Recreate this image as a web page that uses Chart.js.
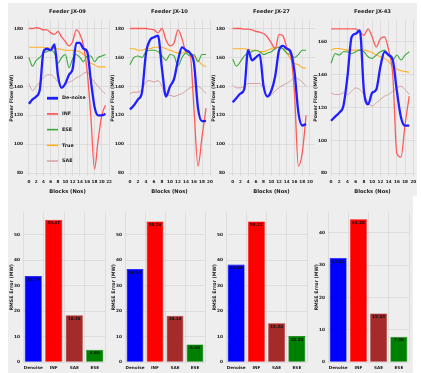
<!DOCTYPE html>
<html>
<head>
<meta charset="utf-8">
<script src="https://cdn.jsdelivr.net/npm/chart.js@4.4.0/dist/chart.umd.min.js"></script>
<style>
  body { margin: 0; background: #fff; }
  #fig { position: relative; width: 421px; height: 373px; overflow: hidden; }
  .bg { position: absolute; background: #eeeeee; }
  canvas { position: absolute; }
</style>
</head>
<body>
<div id="fig">
  <div class="bg" style="left:8px;top:3px;width:409px;height:193px"></div>
  <div class="bg" style="left:8px;top:196px;width:405px;height:177px"></div>
  <canvas id="l1" width="112" height="196" style="left:3px;top:0px"></canvas>
  <canvas id="l2" width="113" height="196" style="left:104px;top:0px"></canvas>
  <canvas id="l3" width="115" height="196" style="left:205px;top:0px"></canvas>
  <canvas id="l4" width="113" height="196" style="left:307px;top:0px"></canvas>
  <canvas id="b1" width="104" height="166" style="left:3px;top:207px"></canvas>
  <canvas id="b2" width="102" height="166" style="left:105px;top:207px"></canvas>
  <canvas id="b3" width="103" height="166" style="left:206px;top:207px"></canvas>
  <canvas id="b4" width="103" height="166" style="left:308px;top:207px"></canvas>
</div>
<script>
// categories / ticks
const blocks22 = [0,1,2,3,4,5,6,7,8,9,10,11,12,13,14,15,16,17,18,19,20,21]
const blocks20 = [0,1,2,3,4,5,6,7,8,9,10,11,12,13,14,15,16,17,18,19]
const xTicks22 = [0,2,4,6,8,10,12,14,16,18,20,22]
const xTicks20 = [0,2,4,6,8,10,12,14,16,18,20]
const yTicksFlow = [80,100,120,140,160,180]
const yTicksFlow43 = [80,100,120,140,160]
const yTicksErr = [0,10,20,30,40,50]
const yTicksErr43 = [0,10,20,30,40]
const feeders = ['Feeder JX-09','Feeder JX-10','Feeder JX-27','Feeder JX-43']
const seriesNames = ['De-noise','INF','ESE','True','SAE']
const barNames = ['Denoise','INF','SAE','ESE']

// Feeder JX-09
const denoise09 = [128,131,133,138,164,166,165,169,147,139,142,148,152,170,170,166,164,144,126,120,120,121]
const inf09 = [180,180,180.5,180,179,179,177,176,178,174,171,168,171,179,176,168,150,119,83,103,120,127]
const ese09 = [160,154,158,160,163,164,165,163,156,160,162,153,159,162,160,157,161,161,157,160,161,162]
const true09 = [167,167,167,167,167,166.5,166.5,166,166,165.5,165,165,165,164.5,164,162,160,156,155,153.5,153.5,153.5]
const sae09 = [142,137,140,143,146,148,148,146,143,140,141,143,144,146,147,149,150,146,143,140,137,135]

// Feeder JX-10
const denoise10 = [124,127,131,136,163,172,174,175,152,133,140,145,158,167,165,163,156,125,116,116]
const inf10 = [180,180,180,180,180,179.5,179,177,180,172,168,170,179,173,164,163,124,85,105,125]
const ese10 = [155,160,161,160,164,165,165,164,161,158,162,161,154,160,163,161,162,157,162,162]
const true10 = [166,166,165,165,166,166,167,167,167,166,165,164,163,163,164,163,161,158,155,153.5]
const sae10 = [135,136,136,138,143,144,143,144,140,133,134,133,134,135,137,139,140,140,138,135]

// Feeder JX-27
const denoise27 = [129,132,135,138,165,158,160,162,140,133,137,147,165,168,166,164,150,122,113,114]
const inf27 = [180,180,180,179.5,179.5,179,178,177.5,176.5,174,170,166,176,175,167,162,135,85,94,120]
const ese27 = [159,154,157,161,163,164,165,164,162,163,164,166,167,166,163,162,160,162,165,165]
const true27 = [166,166,166,166,165.5,165,165,164,164,165,166,167,167,166,163,159,156,155,153,152.5]
const sae27 = [141,139,139,140,142,142,142,142,139,133,134,137,139,141,142,144,146,145,143,140]

// Feeder JX-43
const denoise43 = [112,114.5,117,121,139,163,165,167,130,122,129,131,145,154,152,149,130,114,109,109]
const inf43 = [168,168,168,168,168,168,168,166,164,168,163,157,162,163,155,140,92,90,110,127]
const ese43 = [147,153,152,154,154,153,154,155,154,151,150,152,154,155,152,149,152,149,152,154]
const true43 = [155,156,156,155.5,155,155,155,155,155,154.5,153.5,152,151,150,148,145,143.5,142.5,142,141.5]
const sae43 = [129,128,128,129,128,130,132,131,128,123,121,123,125,127,128,130,132,133,131,128]

// errors (bottom row)
const err09 = [33.76, 55.87, 18.38, 4.80]
const err10 = [36.52, 55.20, 18.13, 6.90]
const err27 = [38.29, 55.21, 15.20, 10.20]
const err43 = [32.22, 44.20, 15.03, 7.80]

const lineColors = ['#1f1fff', '#ff5a5a', '#3aa83a', '#ffb020', '#d4a0a0']
const lineWidths = [2.3, 1.3, 1.1, 1.1, 1.0]
const barColors = ['#0000ff', '#ff0000', '#a52a2a', '#008000']

Chart.defaults.font.family = 'DejaVu Sans'
Chart.defaults.color = '#1a1a1a'
Chart.defaults.animation = false

const gridOpts = { color: '#d6d6d6', lineWidth: 0.7, drawTicks: false }

function fixTicks(list) {
  return function (scale) { scale.ticks = list.map(v => ({ value: v })) }
}

// legend drawn inside the first panel
const insideLegend = {
  id: 'insideLegend',
  afterDatasetsDraw(chart) {
    const ctx = chart.ctx
    const a = chart.chartArea
    chart.data.datasets.forEach((ds, i) => {
      const x = a.left + 21
      const y = a.top + 78 + i * 15.7
      ctx.save()
      ctx.strokeStyle = ds.borderColor
      ctx.lineWidth = ds.borderWidth + 0.5
      ctx.beginPath()
      ctx.moveTo(x, y)
      ctx.lineTo(x + 11, y)
      ctx.stroke()
      ctx.fillStyle = '#1a1a1a'
      ctx.font = 'bold 4.8px "DejaVu Sans"'
      ctx.textBaseline = 'middle'
      ctx.fillText(ds.label, x + 15, y)
      ctx.restore()
    })
  }
}

// value printed at the top of each bar
const barValues = {
  id: 'barValues',
  afterDatasetsDraw(chart) {
    const ctx = chart.ctx
    const meta = chart.getDatasetMeta(0)
    const vals = chart.data.datasets[0].data
    ctx.save()
    ctx.fillStyle = '#111'
    ctx.font = 'bold 4px "DejaVu Sans"'
    ctx.textAlign = 'center'
    ctx.textBaseline = 'top'
    meta.data.forEach((bar, i) => {
      ctx.fillText(vals[i].toFixed(2), bar.x, bar.y + 1.5)
    })
    ctx.restore()
  }
}

function lineChart(id, title, xs, cols, xMin, xMax, xTicks, yMin, yMax, yTicks, legend) {
  new Chart(document.getElementById(id), {
    type: 'line',
    data: {
      datasets: cols.map((vals, i) => ({
        label: seriesNames[i],
        data: vals.map((v, j) => ({ x: xs[j], y: v })),
        borderColor: lineColors[i],
        borderWidth: lineWidths[i],
        pointRadius: 0,
        fill: false,
        cubicInterpolationMode: 'monotone'
      }))
    },
    options: {
      responsive: false,
      layout: { padding: { left: 0, right: 5, top: 0, bottom: 0 } },
      plugins: {
        legend: { display: false },
        tooltip: { enabled: false },
        title: {
          display: true,
          text: title,
          fullSize: false,
          font: { size: 5.2, weight: 'bold' },
          padding: { top: 9, bottom: 5 }
        }
      },
      scales: {
        x: {
          type: 'linear',
          min: xMin,
          max: xMax,
          afterBuildTicks: fixTicks(xTicks),
          afterFit: s => { s.height = 20 },
          grid: gridOpts,
          border: { display: false },
          ticks: { font: { size: 4.2, weight: 'bold' }, padding: 3, maxRotation: 0, autoSkip: false },
          title: { display: true, text: 'Blocks (Nos)', font: { size: 5.2, weight: 'bold' }, padding: { top: 0, bottom: 1 } }
        },
        y: {
          min: yMin,
          max: yMax,
          afterBuildTicks: fixTicks(yTicks),
          afterFit: s => { s.width = 23 },
          grid: gridOpts,
          border: { display: false },
          ticks: { font: { size: 4.3, weight: 'bold' }, padding: 3 },
          title: { display: true, text: 'Power Flow (MW)', font: { size: 4.8, weight: 'bold' }, padding: { top: 6, bottom: 0 } }
        }
      }
    },
    plugins: legend ? [insideLegend] : []
  })
}

function barChart(id, vals, yMax, yTicks) {
  new Chart(document.getElementById(id), {
    type: 'bar',
    data: {
      labels: barNames,
      datasets: [{
        data: vals,
        backgroundColor: barColors,
        borderColor: barColors,
        borderWidth: 0.6,
        barPercentage: 0.84,
        categoryPercentage: 1
      }]
    },
    options: {
      responsive: false,
      layout: { padding: { left: 0, right: 2, top: 0, bottom: 0 } },
      plugins: { legend: { display: false }, tooltip: { enabled: false } },
      scales: {
        x: {
          afterFit: s => { s.height = 11 },
          grid: gridOpts,
          border: { display: false },
          ticks: { font: { size: 4.2, weight: 'bold' }, padding: 3, maxRotation: 0, autoSkip: false }
        },
        y: {
          min: 0,
          max: yMax,
          afterBuildTicks: fixTicks(yTicks),
          afterFit: s => { s.width = 20 },
          grid: gridOpts,
          border: { display: false },
          ticks: { font: { size: 4.3, weight: 'bold' }, padding: 3 },
          title: { display: true, text: 'RMSE Error (MW)', font: { size: 4.8, weight: 'bold' }, padding: { top: 6, bottom: 0 } }
        }
      }
    },
    plugins: [barValues]
  })
}

lineChart('l1', feeders[0], blocks22, [denoise09, inf09, ese09, true09, sae09], -0.8, 22, xTicks22, 78.1, 185.7, yTicksFlow, true)
lineChart('l2', feeders[1], blocks20, [denoise10, inf10, ese10, true10, sae10], -0.75, 20.5, xTicks20, 78.1, 185.7, yTicksFlow, false)
lineChart('l3', feeders[2], blocks20, [denoise27, inf27, ese27, true27, sae27], -1.2, 21.3, xTicks20, 78.1, 185.7, yTicksFlow, false)
lineChart('l4', feeders[3], blocks20, [denoise43, inf43, ese43, true43, sae43], -0.25, 20.4, xTicks20, 78.4, 173.2, yTicksFlow43, false)

barChart('b1', err09, 58.7, yTicksErr)
barChart('b2', err10, 58.7, yTicksErr)
barChart('b3', err27, 58.7, yTicksErr)
barChart('b4', err43, 46.3, yTicksErr43)
</script>
</body>
</html>
